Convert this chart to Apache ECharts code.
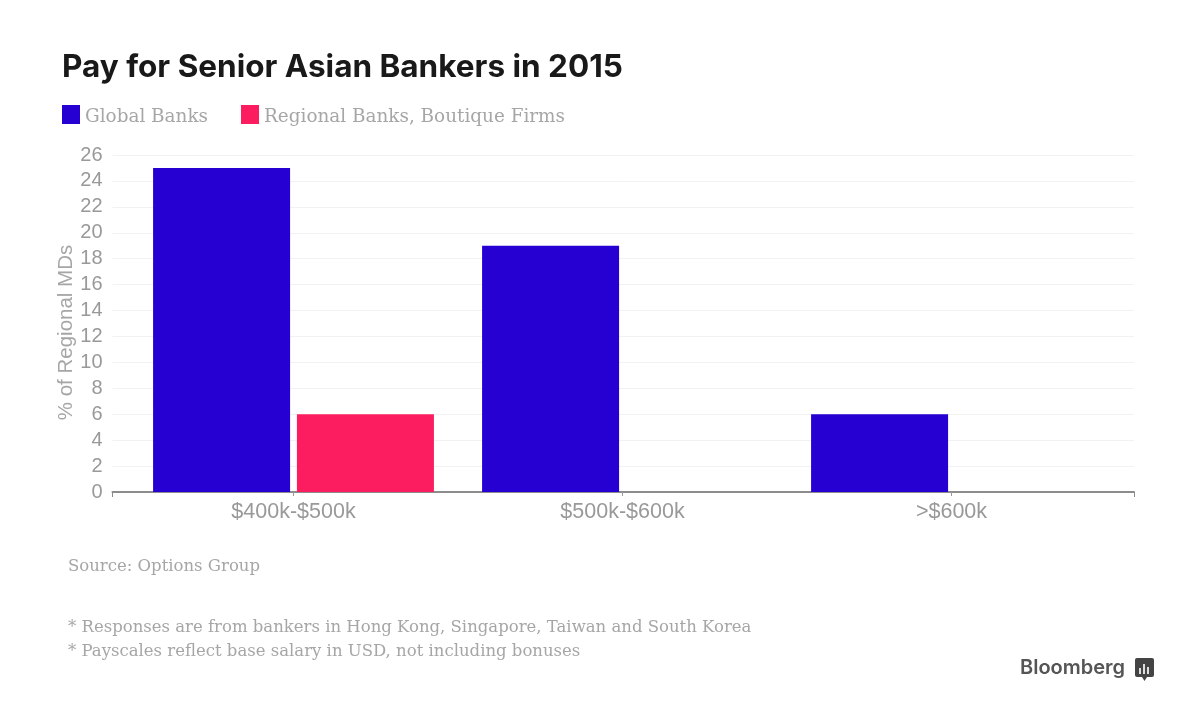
<!DOCTYPE html>
<html>
<head>
<meta charset="utf-8">
<style>html,body{margin:0;padding:0;background:#fff}#chart{width:1200px;height:720px}</style>
<script src="https://cdn.jsdelivr.net/npm/echarts@6/dist/echarts.min.js"></script>
</head>
<body>
<div id="chart"></div>
<script>
// Pay bands and share of regional managing directors per firm type
const categories = ['$400k-$500k', '$500k-$600k', '>$600k'];
const globalBanks = [25, 19, 6];
const regionalBanks = [6, 0, 0];
const seriesNames = ['Global Banks', 'Regional Banks, Boutique Firms'];
const chartTitle = 'Pay for Senior Asian Bankers in 2015';
const yAxisName = '% of Regional MDs';
const sourceLine = 'Source: Options Group';
const noteLines = [
  '* Responses are from bankers in Hong Kong, Singapore, Taiwan and South Korea',
  '* Payscales reflect base salary in USD, not including bonuses'
];

const BLUE = '#2600d2', PINK = '#fb1d5f';
const SERIF = '"DejaVu Serif", serif', SANS = '"Liberation Sans", Arial, sans-serif';
const chart = echarts.init(document.getElementById('chart'), null, {renderer: 'canvas'});

const footStyle = {fontFamily: SERIF, fontWeight: 400, fontSize: 16.5, color: '#a6a6a6'};

chart.setOption({
  animation: false,
  backgroundColor: '#fff',
  title: [
    {text: chartTitle, left: 62, top: 52, padding: 0, textStyle: {fontFamily: 'Inter', fontWeight: 700, fontSize: 31.5, color: '#191919'}},
    {text: sourceLine, left: 68, top: 558, padding: 0, textStyle: footStyle},
    {text: noteLines[0], left: 68, top: 619, padding: 0, textStyle: footStyle},
    {text: noteLines[1], left: 68, top: 643, padding: 0, textStyle: footStyle}
  ],
  legend: {
    // the swatch sits in the upper part of a taller item box, so it rides above the text centre
    left: 62, top: 105, itemWidth: 18, itemHeight: 25, itemGap: 33, padding: 0,
    icon: 'path://M0 0H18V19H0Z M0 25L0.01 25Z', selectedMode: false,
    textStyle: {fontFamily: SERIF, fontSize: 18.4, color: '#a6a6a6'},
    data: seriesNames
  },
  grid: [
    // bars sit in the inner grid; the outer grid carries the wider rules and baseline
    {left: 129, right: 84, top: 155, height: 337},
    {left: 112.5, right: 66, top: 155, height: 337}
  ],
  xAxis: [
    {
      type: 'category', gridIndex: 0, data: categories,
      axisLine: {show: false},
      axisTick: {show: true, alignWithLabel: true, length: 4, lineStyle: {color: '#999'}},
      axisLabel: {fontFamily: SANS, fontSize: 21.5, color: '#999', margin: 9}
    },
    {
      type: 'value', gridIndex: 1, min: 0, max: 1, interval: 1,
      axisLine: {show: true, lineStyle: {color: '#8c8c8c', width: 2}},
      axisTick: {show: true, length: 5, lineStyle: {color: '#8c8c8c'}},
      axisLabel: {show: false}, splitLine: {show: false}
    }
  ],
  yAxis: [
    {type: 'value', gridIndex: 0, min: 0, max: 26, interval: 2, show: false},
    {
      type: 'value', gridIndex: 1, min: 0, max: 26, interval: 2,
      name: yAxisName, nameLocation: 'middle', nameRotate: 90, nameGap: 36, nameMoveOverlap: false,
      nameTextStyle: {fontFamily: SANS, fontSize: 20.5, color: '#a6a6a6', padding: [0, 18, 0, 0]},
      axisLine: {show: false}, axisTick: {show: false},
      axisLabel: {fontFamily: SANS, fontSize: 20, color: '#999', margin: 10},
      splitLine: {show: true, lineStyle: {color: '#f2f2f2', width: 1}}
    }
  ],
  series: [
    {name: seriesNames[0], type: 'bar', xAxisIndex: 0, yAxisIndex: 0, data: globalBanks,
     barWidth: 137, barGap: '5%', itemStyle: {color: BLUE}, z: 3},
    {name: seriesNames[1], type: 'bar', xAxisIndex: 0, yAxisIndex: 0, data: regionalBanks,
     barWidth: 137, barGap: '5%', itemStyle: {color: PINK}, z: 3}
  ],
  graphic: [
    {type: 'text', left: 1020, top: 658, style: {text: 'Bloomberg', fontFamily: 'Inter', fontWeight: 600, fontSize: 20, fill: '#555'}},
    {type: 'group', left: 1135, top: 658, children: [
      {type: 'rect', shape: {x: 0, y: 0, width: 19, height: 19, r: 2}, style: {fill: '#444'}},
      {type: 'polygon', shape: {points: [[7, 19], [12, 19], [9.5, 23]]}, style: {fill: '#444'}},
      {type: 'rect', shape: {x: 4, y: 10, width: 2, height: 6}, style: {fill: '#ddd'}},
      {type: 'rect', shape: {x: 8, y: 6, width: 2, height: 10}, style: {fill: '#ddd'}},
      {type: 'rect', shape: {x: 12, y: 9, width: 2, height: 7}, style: {fill: '#ddd'}}
    ]}
  ]
});
</script>
</body>
</html>
